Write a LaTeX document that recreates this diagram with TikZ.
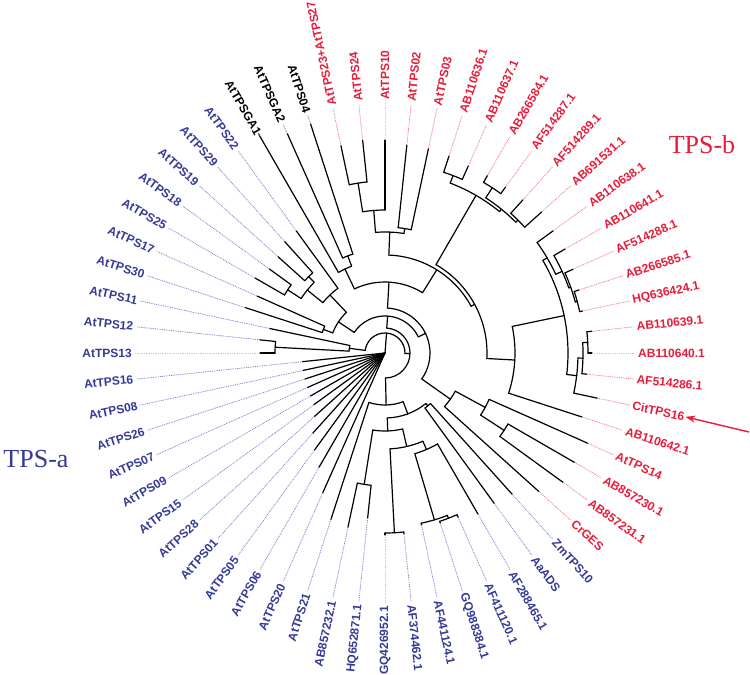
\documentclass[tikz,border=0pt]{standalone}
\usepackage{fontspec}
\setmainfont{Liberation Serif}
\newfontfamily\labfont{Liberation Sans Bold}
\usetikzlibrary{arrows.meta}
\definecolor{txtR}{RGB}{232,28,58}
\definecolor{txtB}{RGB}{52,58,150}
\definecolor{txtK}{RGB}{0,0,0}
\definecolor{dotR}{RGB}{244,120,150}
\definecolor{dotB}{RGB}{130,130,212}
\definecolor{dotK}{RGB}{130,130,130}
\tikzset{
  tr/.style={line width=1.2pt,black,line cap=round},
  lab/.style={inner sep=1pt,font=\labfont\fontsize{12}{12}\selectfont},
  dl/.style={line width=0.8pt,dash pattern=on 0.9pt off 0.9pt},
}
\newcommand\rd[3]{\draw[tr] (#1:#2pt) -- (#1:#3pt);}
\newcommand\ac[3]{\draw[tr] (#2:#1pt) arc[start angle=#2,end angle=#3,radius=#1pt];}
\begin{document}
\begin{tikzpicture}
\fill[white] (-385pt,-322pt) rectangle (365pt,353pt);
\useasboundingbox (-385pt,-322pt) rectangle (365pt,353pt);
% ---- TPS-b top
\ac{172}{96}{102}\rd{102}{172}{212}\rd{96}{172}{214}
\ac{143}{90}{99}\rd{99}{143}{172}\rd{90}{143}{213}
\ac{126}{78}{84}\rd{84}{126}{209}\rd{78}{126}{209}
\ac{121}{81}{94.5}\rd{94.5}{121}{143}\rd{81}{121}{126}
% B group
\ac{190}{66}{72}\rd{72}{190}{207}\rd{66}{190}{205}
\ac{197}{54}{60}\rd{60}{197}{205}\rd{54}{197}{205}
\ac{188}{42}{48}\rd{48}{188}{206}\rd{42}{188}{211}
\ac{185}{45}{57}\rd{57}{185}{197}\rd{45}{185}{188}
\ac{182}{51}{69}\rd{69}{182}{190}\rd{51}{182}{185}
% C group
\ac{199}{12}{18}\rd{18}{199}{204}\rd{12}{199}{202}
\ac{197}{15}{24}\rd{24}{197}{206}\rd{15}{197}{199}
\ac{195}{19.5}{30}\rd{30}{195}{208}\rd{19.5}{195}{197}
\ac{188}{24.75}{36}\rd{36}{188}{208}\rd{24.75}{188}{195}
% E group
\ac{203}{0}{6}\rd{6}{203}{208}\rd{0}{203}{207}
\ac{198}{-6}{3}\rd{3}{198}{203}\rd{-6}{198}{203}
\ac{193}{-12}{-1.5}\rd{-1.5}{193}{198}\rd{-12}{193}{217}
\ac{183}{-6.75}{30.4}\rd{30.4}{183}{188}\rd{-6.75}{183}{193}
\ac{130}{-18}{11.8}\rd{11.8}{130}{183}\rd{-18}{130}{207}
\ac{102}{-3.1}{60}\rd{60}{102}{182}\rd{-3.1}{102}{130}
\ac{98}{28.5}{87.75}\rd{87.75}{98}{121}\rd{28.5}{98}{102}
% I J K
\ac{142}{-36}{-30}\rd{-30}{142}{219}\rd{-36}{142}{220}
\ac{114}{-33}{-24}\rd{-24}{114}{222}\rd{-33}{114}{142}
\ac{80}{-42}{-28.5}\rd{-28.5}{80}{114}\rd{-42}{80}{207}
% black group
\ac{104}{108}{114}\rd{114}{104}{240}\rd{108}{104}{241}
\ac{93}{111}{120}\rd{120}{93}{253}\rd{111}{93}{104}
\ac{71}{58.1}{115.5}\rd{115.5}{71}{93}\rd{58.1}{71}{98}
\ac{45}{-35.25}{86.8}\rd{86.8}{45}{71}\rd{-35.25}{45}{80}
% upper-left blue
\ac{66}{156}{162}\rd{162}{66}{147}\rd{156}{66}{140}
\ac{116}{144}{150}\rd{150}{116}{150}\rd{144}{116}{143}
\ac{108}{132}{138}\rd{138}{108}{144}\rd{132}{108}{150}
\ac{100}{135}{147}\rd{147}{100}{116}\rd{135}{100}{108}
\ac{80}{126}{141}\rd{141}{80}{100}\rd{126}{80}{151}
\ac{56}{133.5}{159}\rd{159}{56}{66}\rd{133.5}{56}{80}
\ac{37}{25.8}{146.25}\rd{146.25}{37}{56}\rd{25.8}{37}{45}
% V
\ac{110}{174}{180}\rd{174}{110}{126}\rd{180}{110}{125}
\ac{36}{168}{177}\rd{177}{36}{110}\rd{168}{36}{118}
% bottom
\ac{180}{-90}{-84}\rd{-84}{180}{182}\rd{-90}{180}{182}
\ac{177}{-72}{-66}\rd{-66}{177}{180}\rd{-72}{177}{179}
\ac{174}{-78}{-69}\rd{-69}{174}{177}\rd{-78}{174}{176}
\ac{105}{-73.5}{-60}\rd{-60}{105}{186}\rd{-73.5}{105}{174}
\ac{96}{-87}{-66.75}\rd{-87}{96}{180}\rd{-66.75}{96}{105}
\ac{133}{-102}{-96}\rd{-96}{133}{166}\rd{-102}{133}{178}
\ac{78}{-99}{-76.9}\rd{-99}{78}{133}\rd{-76.9}{78}{96}
\ac{68}{-54}{-48}\rd{-48}{68}{190}\rd{-54}{68}{186}
\ac{65}{-88}{-51}\rd{-88}{65}{78}\rd{-51}{65}{68}
\ac{52}{-108}{-69.5}\rd{-108}{52}{175}\rd{-69.5}{52}{65}
\ac{25}{-88.75}{86}\rd{86}{25}{37}\rd{-88.75}{25}{52}
\ac{20}{-1.4}{172.5}\rd{172.5}{20}{36}\rd{-1.4}{20}{25}
\rd{85.5}{0}{20}
% fan from root
\foreach \a/\p in {-114/153,-120/132,-126/120,-132/108,-138/95,-144/88,-150/86,-156/85,-162/84,-168/84,-174/83}
  {\draw[tr] (0,0) -- (\a:\p pt);}
% leaves: dotted line and label
\foreach \i/\t/\p/\c in {
1/AtTPS23+AtTPS27/212/R,2/AtTPS24/214/R,3/AtTPS10/213/R,4/AtTPS02/209/R,5/AtTPS03/209/R,
6/AB110636.1/207/R,7/AB110637.1/205/R,8/AB266584.1/205/R,9/AF514287.1/205/R,10/AF514289.1/206/R,
11/AB691531.1/211/R,12/AB110638.1/208/R,13/AB110641.1/208/R,14/AF514288.1/206/R,15/AB266585.1/204/R,
16/HQ636424.1/202/R,17/AB110639.1/208/R,18/AB110640.1/207/R,19/AF514286.1/203/R,20/CitTPS16/217/R,
21/AB110642.1/207/R,22/AtTPS14/222/R,23/AB857230.1/219/R,24/AB857231.1/220/R,25/CrGES/207/R,
26/ZmTPS10/190/B,27/AaADS/186/B,28/AF288465.1/186/B,29/AF411120.1/180/B,30/GQ988384.1/179/B,
31/AF441124.1/176/B,32/AF374462.1/182/B,33/GQ426952.1/182/B,34/HQ652871.1/166/B,35/AB857232.1/178/B,
36/AtTPS21/175/B,37/AtTPS20/153/B,38/AtTPS06/132/B,39/AtTPS05/120/B,40/AtTPS01/108/B,
41/AtTPS28/95/B,42/AtTPS15/88/B,43/AtTPS09/86/B,44/AtTPS07/85/B,45/AtTPS26/84/B,
46/AtTPS08/84/B,47/AtTPS16/83/B,48/AtTPS13/125/B,49/AtTPS12/126/B,50/AtTPS11/118/B,
51/AtTPS30/147/B,52/AtTPS17/140/B,53/AtTPS25/150/B,54/AtTPS18/143/B,55/AtTPS19/144/B,
56/AtTPS29/150/B,57/AtTPS22/151/B,58/AtTPSGA1/253/K,59/AtTPSGA2/240/K,60/AtTPS04/241/K}{
  \pgfmathsetmacro\a{102-6*(\i-1)}
  \pgfmathtruncatemacro\ax{mod(\i,15)==3}
  \ifnum\i<33
    \node[lab,anchor=west,rotate=\a,text=txt\c] (l\i) at (\a:252pt) {\t};
  \else
    \pgfmathsetmacro\b{\a+180}
    \node[lab,anchor=east,rotate=\b,text=txt\c] (l\i) at (\a:252pt) {\t};
  \fi
  \ifnum\ax=1
    \draw[dl,dot\c!50] (\a:\p pt) -- (\a:250pt);
  \else
    \draw[dl,dot\c] (\a:\p pt) -- (\a:250pt);
  \fi
}
% clade names and arrow
\node[text=txtR,font=\fontsize{26}{26}\selectfont] (tpsb) at (317pt,208pt) {TPS-b};
\node[text=txtB,font=\fontsize{26}{26}\selectfont] (tpsa) at (-349pt,-106pt) {TPS-a};
\coordinate (arrS) at (364pt,-79pt);
\draw[line width=1.4pt,txtR,-{Stealth[length=10pt,width=7pt]}] (arrS) -- (l20.east);
\end{tikzpicture}
\end{document}
